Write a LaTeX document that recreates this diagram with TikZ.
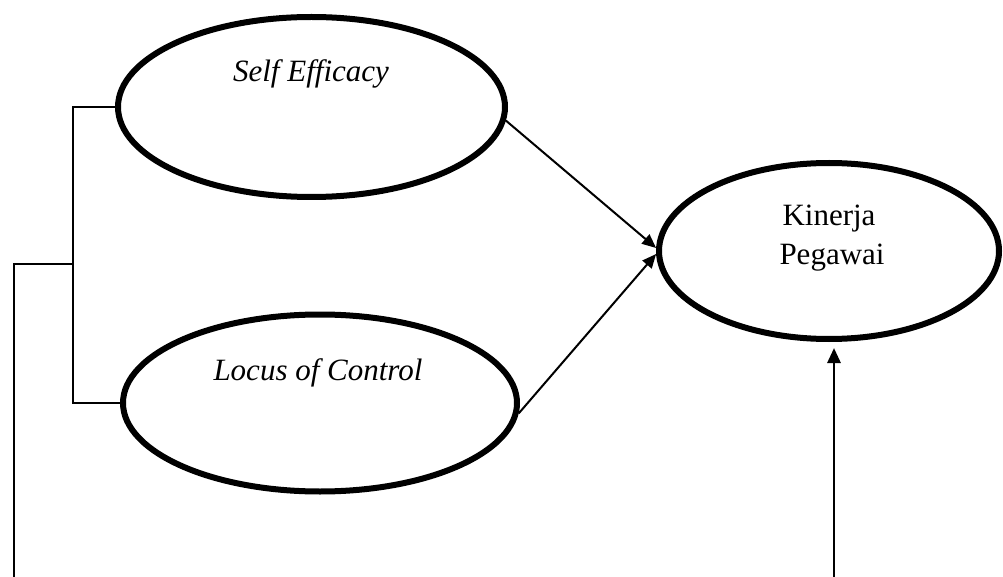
\documentclass[tikz,border=0pt]{standalone}
\usepackage{fontspec}
\setmainfont{Liberation Serif}
\usetikzlibrary{shapes.geometric,arrows.meta}
\begin{document}
\begin{tikzpicture}[x=1pt,y=-1pt,
  latent/.style={draw,ellipse,line width=6pt,inner sep=0pt},
  lbl/.style={anchor=base,inner sep=0pt,font=\fontsize{31}{37}\selectfont},
  thinline/.style={line width=1.6pt},
  path/.style={line width=2pt,-{Triangle[length=14pt,width=12pt]}},
  vpath/.style={line width=2.8pt,-{Triangle[length=15pt,width=13pt]}}]
\useasboundingbox (0,0) rectangle (1003,577);
% latent variables
\node[latent,minimum width=387pt,minimum height=180pt] (se) at (311.5,107) {};
\node[latent,minimum width=394pt,minimum height=177pt] (lc) at (320,403) {};
\node[latent,minimum width=340pt,minimum height=176pt] (kp) at (829,251) {};
% labels
\node[lbl] (setxt) at (311,82) {\itshape Self Efficacy};
\node[lbl] (lctxt) at (318,380) {\itshape Locus of Control};
\node[lbl] (kptxt1) at (829,226) {Kinerja};
\node[lbl] (kptxt2) at (832,264) {Pegawai};
% bracket
\coordinate (mid) at (73,264);
\coordinate (lft) at (14,264);
\coordinate (lftb) at (14,577);
\draw[thinline] (se.west) -- (se.west -| mid) -- (lc.west -| mid) -- (lc.west);
\draw[thinline] (lftb) -- (lft) -- (mid);
% paths
\draw[path] (se.-4) -- (kp.179);
\draw[path] (lc.-3) -- (kp.181);
\coordinate (vb) at (834,577);
\draw[vpath,shorten >=6pt] (vb) -- (vb |- kp.south);
\end{tikzpicture}
\end{document}
